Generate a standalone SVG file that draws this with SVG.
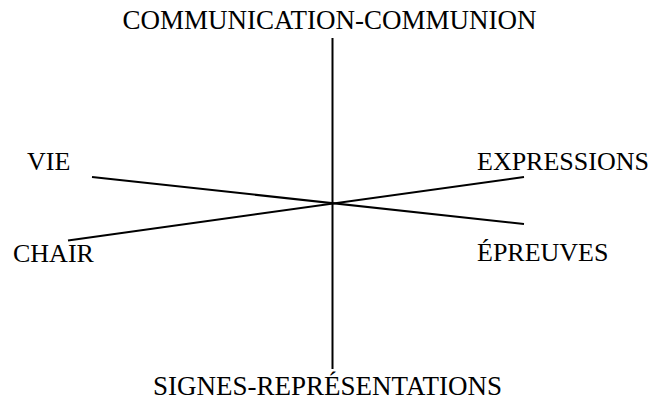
<svg xmlns="http://www.w3.org/2000/svg" width="656" height="405" viewBox="0 0 656 405">
<style>
text{font-family:"Liberation Serif","Times New Roman",serif;font-size:26px;fill:#000}
text.big{font-size:27px}
line{stroke:#000;stroke-width:2}
</style>
<rect width="656" height="405" fill="#fff"/>
<g id="connectors">
<line x1="332.5" y1="38" x2="332.5" y2="369"/>
<line x1="92" y1="177" x2="524" y2="224"/>
<line x1="68" y1="240.5" x2="524" y2="177"/>
</g>
<g id="communication"><text class="big" x="329.5" y="29" text-anchor="middle">COMMUNICATION-COMMUNION</text></g>
<g id="vie"><text x="27" y="170">VIE</text></g>
<g id="chair"><text x="13" y="262">CHAIR</text></g>
<g id="expressions"><text x="477" y="170">EXPRESSIONS</text></g>
<g id="epreuves"><text x="477" y="261">ÉPREUVES</text></g>
<g id="signes"><text class="big" x="327.5" y="395" text-anchor="middle">SIGNES-REPRÉSENTATIONS</text></g>
</svg>
